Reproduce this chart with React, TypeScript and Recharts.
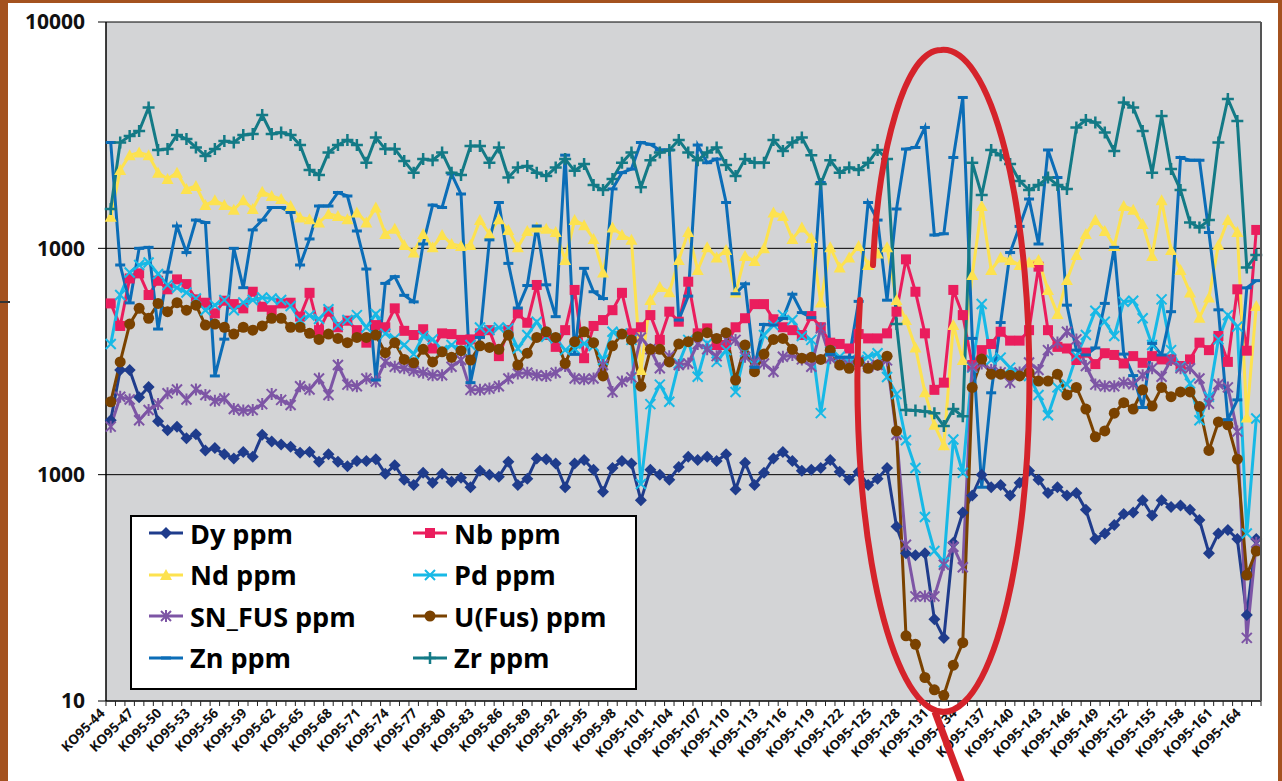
import React from 'react';
import { LineChart, Line, XAxis, YAxis, CartesianGrid, Legend } from 'recharts';

// sample numbers along the traverse (KO95-44 ... KO95-165)
const sampleNums = [
  44, 45, 46, 47, 48, 49, 50, 51, 52, 53, 54, 55, 56, 57, 58, 59, 60, 61, 62, 63,
  64, 65, 66, 67, 68, 69, 70, 71, 72, 73, 74, 75, 76, 77, 78, 79, 80, 81, 82, 83,
  84, 85, 86, 87, 88, 89, 90, 91, 92, 93, 94, 95, 96, 97, 98, 99, 100, 101, 102, 103,
  104, 105, 106, 107, 108, 109, 110, 111, 112, 113, 114, 115, 116, 117, 118, 119, 120, 121, 122, 123,
  124, 125, 126, 127, 128, 129, 130, 131, 132, 133, 134, 135, 136, 137, 138, 139, 140, 141, 142, 143,
  144, 145, 146, 147, 148, 149, 150, 151, 152, 153, 154, 155, 156, 157, 158, 159, 160, 161, 162, 163,
  164, 165,
];
const categories = sampleNums.map((n) => `KO95-${n}`);

const yTicks = [10, 100, 1000, 10000];
const yTickLabels = ['10', '1000', '1000', '10000'];

const dy = [
  174, 290, 290, 220, 244, 172, 157, 163, 145, 151, 128, 131, 123, 118, 126, 120, 150, 140, 136, 133, 125,
  126, 114, 123, 114, 109, 115, 115, 117, 101, 110, 95, 90, 102, 92, 101, 93, 97, 88, 104, 100,
  98, 114, 90, 96, 118, 117, 112, 88, 112, 116, 105, 84, 107, 115, 112, 77, 105, 100, 95, 108,
  120, 116, 120, 115, 123, 86, 113, 90, 102, 118, 126, 115, 104, 105, 107, 116, 103, 95, 103, 90,
  96, 107, 59, 45, 44, 45, 23, 19, 50, 68, 81, 100, 88, 90, 81, 92, 104, 95, 83, 88,
  81, 83, 70, 52, 55, 60, 67, 68, 77, 66, 77, 72, 73, 70, 63, 45, 55, 57, 52, 24, 52,
];

const nb = [
  571, 454, 736, 775, 622, 719, 659, 729, 695, 595, 575, 516, 587, 567, 543, 643, 552, 533, 571, 575, 499,
  636, 435, 525, 448, 479, 435, 383, 458, 448, 543, 432, 414, 439, 361, 421, 418, 394, 396, 421, 435,
  334, 435, 516, 469, 689, 414, 367, 435, 655, 327, 454, 482, 533, 636, 421, 448, 507, 394, 525, 474,
  712, 421, 443, 374, 374, 448, 491, 567, 567, 486, 448, 435, 414, 502, 448, 383, 378, 361, 418, 400,
  400, 421, 525, 894, 643, 421, 237, 255, 655, 507, 305, 355, 378, 428, 391, 391, 435, 830, 435, 367,
  361, 321, 346, 308, 344, 338, 310, 334, 312, 334, 323, 323, 302, 323, 383, 355, 410, 315, 659, 353, 1206,
];

const nd = [
  1380, 2220, 2580, 2650, 2580, 2160, 2025, 2160, 1830, 1885, 1553, 1630, 1553, 1480, 1630, 1492, 1780, 1703, 1651, 1538, 1370,
  1346, 1300, 1419, 1390, 1346, 1440, 1300, 1515, 1156, 1220, 1035, 958, 1156, 1010, 1145, 1045, 1025, 1035, 1333, 1156,
  1346, 1206, 1010, 1193, 1236, 1220, 1180, 888, 1333, 1265, 1100, 782, 1236, 1145, 1090, 290, 591, 675, 640, 888,
  1180, 802, 1010, 910, 982, 638, 925, 879, 1000, 1440, 1390, 1100, 1236, 1112, 576, 1010, 823, 910, 1025, 844,
  950, 1010, 591, 482, 365, 231, 166, 135, 458, 321, 762, 1538, 802, 910, 888, 844, 866, 888, 655, 513,
  724, 934, 1156, 1333, 1193, 1025, 1538, 1480, 1280, 925, 1630, 982, 802, 638, 494, 606, 1035, 1333, 1180, 179, 556,
];

const pd = [
  378, 622, 782, 844, 866, 770, 689, 670, 638, 600, 533, 561, 591, 533, 576, 591, 606, 600, 591, 556, 482,
  505, 487, 538, 458, 482, 507, 447, 513, 420, 400, 374, 341, 410, 396, 355, 374, 355, 374, 447, 435,
  447, 443, 361, 414, 474, 407, 400, 355, 360, 380, 370, 321, 428, 421, 394, 91, 205, 250, 210, 310,
  394, 271, 380, 315, 355, 232, 349, 305, 414, 458, 507, 482, 410, 394, 187, 349, 332, 315, 321, 332,
  344, 270, 227, 142, 107, 65, 46, 41, 143, 102, 297, 568, 321, 329, 297, 283, 273, 225, 183, 243,
  250, 334, 414, 530, 474, 410, 581, 587, 491, 374, 595, 355, 300, 253, 174, 221, 396, 507, 451, 55, 177,
];

const snFus = [
  163, 221, 215, 174, 193, 205, 229, 238, 215, 238, 225, 212, 217, 195, 192, 193, 205, 227, 214, 203, 246,
  238, 266, 225, 305, 250, 246, 266, 258, 315, 300, 295, 288, 282, 275, 275, 300, 321, 237, 237, 240,
  246, 266, 280, 282, 275, 273, 282, 302, 266, 264, 266, 305, 232, 258, 269, 404, 358, 295, 334, 305,
  310, 378, 358, 334, 396, 394, 332, 315, 310, 285, 332, 338, 323, 300, 443, 327, 312, 305, 315, 300,
  305, 320, 150, 49, 29, 29, 29, 40, 48, 39, 300, 310, 290, 283, 255, 283, 313, 290, 355, 384,
  428, 396, 302, 250, 246, 246, 255, 251, 275, 295, 271, 321, 295, 295, 266, 206, 251, 243, 155, 19, 50,
];

const uFus = [
  210, 315, 463, 543, 491, 571, 525, 575, 533, 561, 458, 463, 448, 418, 448, 435, 454, 491, 491, 448, 448,
  421, 396, 418, 400, 383, 404, 404, 414, 346, 383, 323, 312, 358, 315, 349, 330, 353, 321, 371, 365,
  358, 414, 305, 344, 404, 428, 404, 310, 387, 428, 383, 273, 371, 418, 394, 246, 358, 358, 315, 378,
  387, 407, 424, 400, 424, 262, 374, 285, 341, 396, 400, 358, 327, 330, 323, 355, 305, 295, 315, 295,
  305, 334, 156, 19.4, 17.8, 12.7, 11.2, 10.6, 14.4, 18.1, 243, 324, 278, 278, 275, 273, 283, 259, 259, 278,
  225, 243, 195, 147, 156, 187, 208, 195, 237, 201, 243, 221, 232, 232, 200, 128, 171, 166, 117, 36, 46,
];

const zn = [
  2935, 844, 574, 1000, 1010, 440, 785, 1255, 958, 1333, 1300, 273, 397, 1000, 670, 1206, 1333, 1515, 1515, 1440, 844,
  1100, 1538, 1538, 1765, 1703, 1193, 810, 262, 700, 750, 620, 580, 1045, 1553, 1515, 2130, 1738, 255, 404, 1090,
  1594, 858, 545, 685, 1255, 690, 499, 2580, 340, 816, 643, 600, 1830, 2160, 2240, 2935, 2880, 2720, 2720, 482,
  615, 2860, 2390, 2480, 1594, 630, 697, 298, 461, 458, 490, 627, 520, 494, 1954, 340, 330, 330, 583, 1594,
  1333, 590, 1492, 2745, 2790, 3420, 1145, 1160, 2520, 4640, 400, 88, 230, 470, 958, 1250, 1651, 1045, 2720, 2055,
  561, 355, 338, 363, 571, 1010, 341, 274, 198, 380, 338, 525, 2520, 2450, 2450, 1175, 535, 175, 214, 669, 720,
];

const zr = [
  1492, 2935, 3135, 3300, 4190, 2720, 2745, 3170, 3040, 2790, 2560, 2745, 2980, 2935, 3170, 3200, 3880, 3200, 3250, 3170, 2860,
  2220, 2110, 2650, 2860, 3010, 2860, 2390, 3090, 2745, 2745, 2430, 2160, 2480, 2450, 2650, 2160, 2110, 2830, 2830, 2390,
  2790, 2055, 2275, 2310, 2160, 2085, 2275, 2480, 2200, 2360, 1905, 1810, 2025, 2390, 2650, 1860, 2450, 2650, 2720, 3010,
  2650, 2450, 2650, 2790, 2335, 2085, 2480, 2390, 2390, 3010, 2690, 2935, 3090, 2580, 1925, 2450, 2160, 2275, 2220, 2390,
  2720, 2480, 463, 193, 192, 190, 187, 164, 195, 181, 2390, 1720, 2720, 2580, 2360, 1985, 1810, 1905, 2055, 1905,
  1830, 3420, 3690, 3600, 3250, 2690, 4410, 4190, 3300, 2160, 3840, 2240, 1810, 1300, 1236, 1333, 2935, 4570, 3650, 823, 934,
];

type Shape = 'diamond' | 'square' | 'triangle' | 'x' | 'star' | 'circle' | 'dash' | 'plus';

const series: { key: string; name: string; color: string; shape: Shape; values: number[] }[] = [
  { key: 'dy', name: 'Dy ppm', color: '#1F3C8C', shape: 'diamond', values: dy },
  { key: 'nb', name: 'Nb ppm', color: '#EA1D5D', shape: 'square', values: nb },
  { key: 'nd', name: 'Nd ppm', color: '#FDE24F', shape: 'triangle', values: nd },
  { key: 'pd', name: 'Pd ppm', color: '#17B9E6', shape: 'x', values: pd },
  { key: 'sn', name: 'SN_FUS ppm', color: '#7D55A5', shape: 'star', values: snFus },
  { key: 'u', name: 'U(Fus) ppm', color: '#7A4200', shape: 'circle', values: uFus },
  { key: 'zn', name: 'Zn ppm', color: '#0B6DB7', shape: 'dash', values: zn },
  { key: 'zr', name: 'Zr ppm', color: '#137A86', shape: 'plus', values: zr },
];

const data = categories.map((name, i) => {
  const row: Record<string, string | number> = { name };
  series.forEach((s) => {
    row[s.key] = s.values[i];
  });
  return row;
});

const W = 1282;
const H = 781;
const PLOT_LEFT = 106;
const PLOT_RIGHT = 1261;
const PLOT_TOP = 22;
const PLOT_BOTTOM = 701;
const BAND = (PLOT_RIGHT - PLOT_LEFT) / categories.length;
const FONT = '"Open Sans", "Liberation Sans", Arial, sans-serif';

function Marker({ shape, color, cx, cy }: { shape: Shape; color: string; cx: number; cy: number }) {
  switch (shape) {
    case 'diamond':
      return <polygon points={`${cx},${cy - 6} ${cx + 6},${cy} ${cx},${cy + 6} ${cx - 6},${cy}`} fill={color} />;
    case 'square':
      return <rect x={cx - 5} y={cy - 5} width={10} height={10} fill={color} />;
    case 'triangle':
      return <polygon points={`${cx},${cy - 6} ${cx + 6},${cy + 5} ${cx - 6},${cy + 5}`} fill={color} />;
    case 'x':
      return (
        <path
          d={`M${cx - 5},${cy - 5}L${cx + 5},${cy + 5}M${cx - 5},${cy + 5}L${cx + 5},${cy - 5}`}
          stroke={color}
          strokeWidth={2}
        />
      );
    case 'star':
      return (
        <path
          d={`M${cx - 5},${cy - 5}L${cx + 5},${cy + 5}M${cx - 5},${cy + 5}L${cx + 5},${cy - 5}M${cx},${cy - 6}V${cy + 6}`}
          stroke={color}
          strokeWidth={2}
        />
      );
    case 'circle':
      return <circle cx={cx} cy={cy} r={5.5} fill={color} />;
    case 'dash':
      return <rect x={cx - 5} y={cy - 1.5} width={10} height={3} fill={color} />;
    case 'plus':
      return <path d={`M${cx - 6},${cy}H${cx + 6}M${cx},${cy - 6}V${cy + 6}`} stroke={color} strokeWidth={2.5} />;
    default:
      return null;
  }
}

const makeDot = (shape: Shape, color: string) => (props: any) => {
  const { cx, cy, index } = props;
  if (cx == null || cy == null) return <g key={`e-${index}`} />;
  return (
    <g key={`d-${index}`}>
      <Marker shape={shape} color={color} cx={cx} cy={cy} />
    </g>
  );
};

function XTick(props: any) {
  const { x, y, payload, index } = props;
  const half = BAND / 2;
  const isLast = index === categories.length - 1;
  const lx = x - 5;
  const ly = y + 13;
  return (
    <g>
      <line x1={x - half} x2={x - half} y1={y} y2={y + 5} stroke="#222" strokeWidth={1} />
      {isLast && <line x1={x + half} x2={x + half} y1={y} y2={y + 5} stroke="#222" strokeWidth={1} />}
      {index % 3 === 0 && (
        <text
          x={lx}
          y={ly}
          textAnchor="end"
          transform={`rotate(-45 ${lx} ${ly})`}
          fontFamily={FONT}
          fontWeight={700}
          fontSize={13.5}
          fill="#111"
        >
          {payload.value}
        </text>
      )}
    </g>
  );
}

function LegendBox({ payload }: any) {
  const items = (payload ?? []) as any[];
  return (
    <div
      style={{
        width: 507,
        height: 175,
        boxSizing: 'border-box',
        border: '2px solid #000',
        background: '#fff',
        position: 'relative',
        fontFamily: FONT,
        fontWeight: 700,
        fontSize: 27,
        color: '#000',
      }}
    >
      {items.map((item) => {
        const idx = series.findIndex((s) => s.key === item.dataKey);
        if (idx < 0) return null;
        const s = series[idx];
        const col = idx % 2;
        const row = Math.floor(idx / 2);
        const left = col === 0 ? 16 : 280;
        const top = row * 41.5 - 5;
        return (
          <div
            key={s.key}
            style={{ position: 'absolute', left, top, height: 42, display: 'flex', alignItems: 'center', whiteSpace: 'nowrap' }}
          >
            <svg width={36} height={20} style={{ marginRight: 6 }}>
              <line x1={1} x2={35} y1={10} y2={10} stroke={s.color} strokeWidth={3} />
              <Marker shape={s.shape} color={s.color} cx={18} cy={10} />
            </svg>
            <span>{item.value}</span>
          </div>
        );
      })}
    </div>
  );
}

export default function App() {
  return (
    <div style={{ position: 'absolute', left: 0, top: 0, width: W, height: H, background: '#fff', overflow: 'hidden', fontFamily: FONT }}>
      <LineChart
        width={W}
        height={H}
        data={data}
        margin={{ top: PLOT_TOP, right: W - PLOT_RIGHT, bottom: 0, left: 0 }}
      >
        <CartesianGrid vertical={false} stroke="#000" strokeWidth={1} fill="#D3D4D6" fillOpacity={1} />
        <XAxis
          dataKey="name"
          scale="band"
          interval={0}
          height={H - PLOT_BOTTOM}
          tickSize={0}
          tickMargin={0}
          tickLine={false}
          axisLine={{ stroke: '#000', strokeWidth: 1 }}
          tick={<XTick />}
        />
        <YAxis
          scale="log"
          domain={[10, 10000]}
          ticks={yTicks}
          allowDataOverflow
          width={PLOT_LEFT}
          tickSize={8}
          tickMargin={13}
          tickLine={{ stroke: '#000' }}
          axisLine={{ stroke: '#000', strokeWidth: 1.5 }}
          tickFormatter={(v: number) => yTickLabels[yTicks.indexOf(v)] ?? String(v)}
          tick={{ fill: '#111', fontSize: 21, fontWeight: 700, fontFamily: FONT }}
        />
        <Legend
          layout="horizontal"
          verticalAlign="middle"
          align="center"
          content={<LegendBox />}
          wrapperStyle={{ left: 130, top: 515, width: 507, height: 175 }}
        />
        {series.map((s) => (
          <Line
            key={s.key}
            type="linear"
            dataKey={s.key}
            name={s.name}
            stroke={s.color}
            strokeWidth={3}
            dot={makeDot(s.shape, s.color)}
            activeDot={false}
            isAnimationActive={false}
          />
        ))}
      </LineChart>

      {/* plot border on the right, hand-drawn annotation and the page frame */}
      <svg width={W} height={H} style={{ position: 'absolute', left: 0, top: 0, pointerEvents: 'none' }}>
        <line x1={PLOT_RIGHT} x2={PLOT_RIGHT} y1={PLOT_TOP} y2={PLOT_BOTTOM} stroke="#555" strokeWidth={2} />
        <path
          d="M 860 300 A 86 331 0 1 0 941 50 C 905 50, 878 150, 873 265"
          fill="none"
          stroke="#D5232B"
          strokeWidth={6}
          strokeLinecap="round"
        />
        <line x1={935} y1={712} x2={962} y2={784} stroke="#D5232B" strokeWidth={7} />
      </svg>
      <div
        style={{
          position: 'absolute',
          left: 0,
          top: 0,
          width: W,
          height: H,
          boxSizing: 'border-box',
          borderTop: '3px solid #A4521F',
          borderLeft: '8px solid #A4521F',
          borderRight: '4px solid #A4521F',
          pointerEvents: 'none',
        }}
      />
      <div style={{ position: 'absolute', left: 0, top: 301, width: 10, height: 2, background: '#333' }} />
    </div>
  );
}
